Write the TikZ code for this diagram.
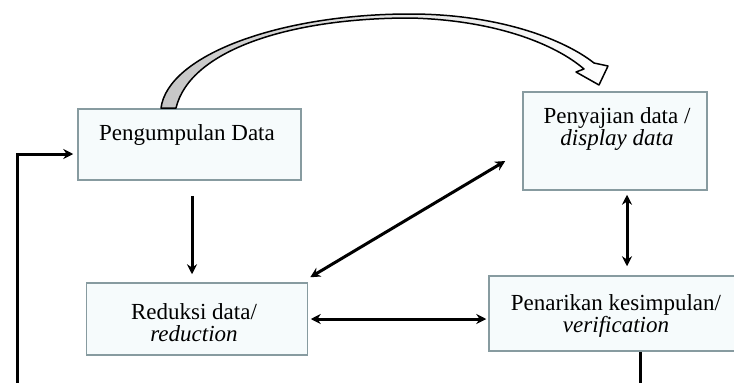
\documentclass[tikz,border=0pt]{standalone}
\usepackage{fontspec}
\setmainfont{Liberation Serif}
\usetikzlibrary{arrows.meta}
\definecolor{boxline}{RGB}{135,155,160}
\definecolor{boxfill}{RGB}{246,251,252}
\begin{document}
\begin{tikzpicture}[x=1pt,y=-1pt,
  box/.style={draw=boxline, fill=boxfill, line width=1.5pt, inner sep=0pt},
  lbl/.style={inner sep=0pt, align=center, font=\fontsize{23}{22}\selectfont},
  conn/.style={line width=3pt, -{Stealth[length=10pt,width=10pt]}},
  dconn/.style={line width=3pt, {Stealth[length=10pt,width=10pt]}-{Stealth[length=10pt,width=10pt]}},
  blockarrow/.style={draw=black, line width=1.5pt, line join=round, left color=gray!45, right color=white},
]
\useasboundingbox[fill=white] (0,0) rectangle (734,383);

% boxes
\node[box, minimum width=223pt, minimum height=71pt] (b1) at (189.5,144.5) {};
\node[box, minimum width=184pt, minimum height=98pt] (b2) at (615,141) {};
\node[box, minimum width=221pt, minimum height=72pt] (b3) at (197,319) {};
\begin{scope}
  \clip (0,0) rectangle (734,383);
  \node[box, minimum width=256pt, minimum height=75pt] (b4) at (617,313.5) {};
\end{scope}

% labels
\node[lbl] (t1) at (187,135) {Pengumpulan Data};
\node[lbl] (t2) at (617,129) {Penyajian data /\\\textit{display data}};
\node[lbl] (t3) at (194,323) {Reduksi data/\\\textit{reduction}};
\node[lbl] (t4) at (616,316) {Penarikan kesimpulan/\\\textit{verification}};

% curved block arrow from Pengumpulan Data to Penyajian data
\path[blockarrow] (161,108) .. controls (168,55) and (280,14) .. (410,14)
  .. controls (500,14) and (565,40) .. (594,63)
  -- (608,66) -- (599,85) -- (576,72) -- (584,69)
  .. controls (555,44) and (495,20) .. (410,18)
  .. controls (290,18) and (190,50) .. (176,108) -- cycle;

% connectors
\draw[conn, shorten <=15pt, shorten >=8pt] ([xshift=2.5pt]b1.south) -- ([xshift=-5pt]b3.north);
\draw[dconn] ([shift={(2,-5)}]b3.north east) -- ([shift={(-17,20)}]b2.west);
\draw[dconn, shorten <=4pt, shorten >=9pt] ([xshift=12pt]b2.south) -- ([xshift=10pt]b4.north);
\draw[dconn, shorten <=2.5pt, shorten >=2pt] (b3.east) -- (b3.east -| b4.west);

% feedback loop (bottom run lies below the visible area)
\coordinate (fb1) at (640,400);
\coordinate (fb2) at (17,400);
\coordinate (fb3) at (17,154);
\begin{scope}
  \clip (0,0) rectangle (734,383);
  \draw[conn, line join=miter, shorten >=4pt] (b4.south -| fb1) -- (fb1) -- (fb2) -- (fb3) -- (fb3 -| b1.west);
\end{scope}
\end{tikzpicture}
\end{document}
